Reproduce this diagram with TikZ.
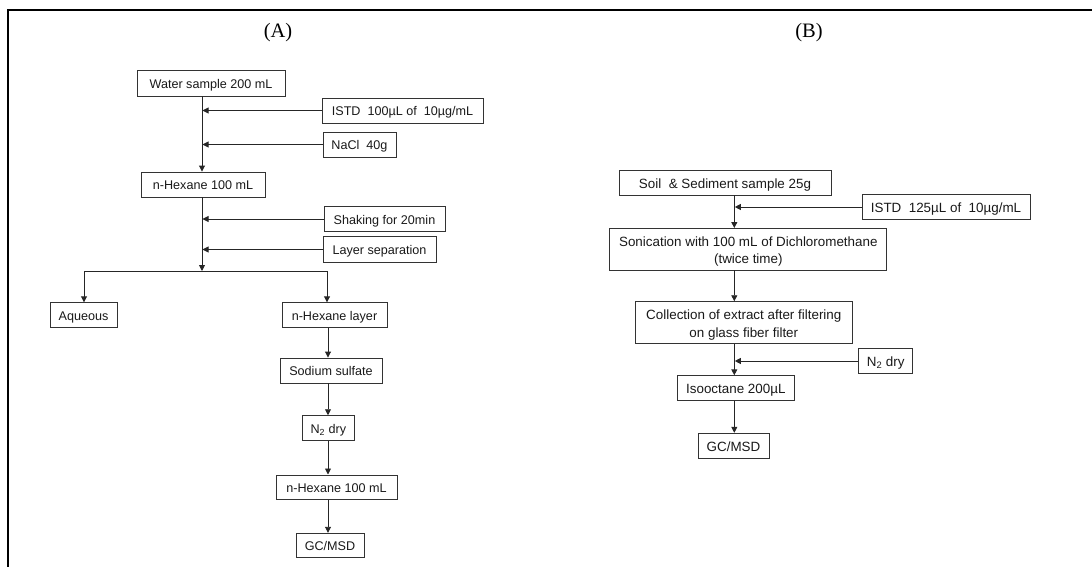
\documentclass[tikz,border=0pt]{standalone}
\usepackage{fontspec}
\setmainfont{Liberation Sans}
\newfontfamily\titlefont{Liberation Serif}
\usetikzlibrary{arrows.meta}
\begin{document}
\begin{tikzpicture}[x=1pt,y=-1pt,
  boxA/.style={draw=black!80,line width=0.9pt,inner sep=0pt,align=center,text=black!90,
    font=\fontsize{12.6}{15}\selectfont,text height=10.8pt,text depth=0pt},
  boxB/.style={draw=black!80,line width=0.9pt,inner sep=0pt,align=center,text=black!90,
    font=\fontsize{13.4}{17.5}\selectfont},
  oneB/.style={boxB,text height=11.4pt,text depth=0pt},
  twoB/.style={boxB,text height=28.9pt,text depth=0pt},
  arr/.style={draw=black!85,line width=0.9pt,-{Triangle[length=6pt,width=6pt]}},
  paneltitle/.style={font=\titlefont\fontsize{20.5}{24}\selectfont,inner sep=0pt}]
\useasboundingbox (0,0) rectangle (1092,567);
% frame
\draw[line width=2.5pt] (8,567) -- (8,10) -- (1092,10);
% titles
\node[paneltitle] (tA) at (278,33) {(A)};
\node[paneltitle] (tB) at (809,33) {(B)};
% ---------- Panel A ----------
\node[boxA,minimum width=148pt,minimum height=26pt] (water) at (211,83) {Water sample 200 mL};
\node[boxA,minimum width=161pt,minimum height=25pt] (istdA) at (402.5,110.5) {ISTD\ \ 100µL of\ \ 10µg/mL};
\node[boxA,minimum width=73pt,minimum height=25pt] (nacl) at (359.5,144.5) {NaCl\ \ 40g};
\node[boxA,minimum width=124pt,minimum height=25pt] (hexA) at (203,184.5) {n-Hexane 100 mL};
\node[boxA,minimum width=121pt,minimum height=25pt] (shake) at (384.5,219) {Shaking for 20min};
\node[boxA,minimum width=113pt,minimum height=25.5pt] (sep) at (379.5,249.5) {Layer separation};
\node[boxA,minimum width=67pt,minimum height=24.5pt] (aq) at (83.5,315) {Aqueous};
\node[boxA,minimum width=105pt,minimum height=24.5pt] (layer) at (334.5,315) {n-Hexane layer};
\node[boxA,minimum width=102pt,minimum height=25pt] (sulf) at (331,370.5) {Sodium sulfate};
\node[boxA,minimum width=51.5pt,minimum height=25pt] (n2A) at (328.3,428.2) {N\textsubscript{2} dry};
\node[boxA,minimum width=121pt,minimum height=24.5pt] (hex2) at (336.5,487.2) {n-Hexane 100 mL};
\node[boxA,minimum width=68pt,minimum height=24.5pt] (gcA) at (330,545.5) {GC/MSD};
\coordinate (trunkA) at (202,0);
\coordinate (colA) at (328,0);
\coordinate (split) at (202,271);
\draw[arr] (water.south -| trunkA) -- (hexA.north -| trunkA);
\draw[arr] (istdA.west) -- ([xshift=0.5pt]istdA.west -| trunkA);
\draw[arr] (nacl.west) -- ([xshift=0.5pt]nacl.west -| trunkA);
\draw[arr] (hexA.south -| trunkA) -- (split);
\draw[arr] (shake.west) -- ([xshift=0.5pt]shake.west -| trunkA);
\draw[arr] (sep.west) -- ([xshift=0.5pt]sep.west -| trunkA);
\draw[arr] (split) -| (aq.north -| 84,0);
\draw[arr] (split) -| (layer.north -| 327,0);
\draw[arr] (layer.south -| colA) -- (sulf.north -| colA);
\draw[arr] (sulf.south -| colA) -- (n2A.north -| colA);
\draw[arr] (n2A.south -| colA) -- (hex2.north -| colA);
\draw[arr] (hex2.south -| colA) -- (gcA.north -| colA);
% ---------- Panel B ----------
\node[oneB,minimum width=212pt,minimum height=25pt] (soil) at (725,182.5) {Soil\ \ \& Sediment sample 25g};
\node[oneB,minimum width=168pt,minimum height=25.5pt] (istdB) at (946,207) {ISTD\ \ 125µL of\ \ 10µg/mL};
\node[twoB,minimum width=277pt,minimum height=41.5pt] (sonic) at (748.3,249.2) {Sonication with 100 mL of Dichloromethane\\(twice time)};
\node[twoB,minimum width=217pt,minimum height=42pt] (coll) at (743.8,322.7) {Collection of extract after filtering\\on glass fiber filter};
\node[oneB,minimum width=54pt,minimum height=25pt] (n2B) at (885.7,361) {N\textsubscript{2} dry};
\node[oneB,minimum width=117pt,minimum height=24.5pt] (iso) at (735.8,388) {Isooctane 200µL};
\node[oneB,minimum width=71pt,minimum height=25pt] (gcB) at (733.5,445.8) {GC/MSD};
\coordinate (trunkB) at (734.3,0);
\draw[arr] (soil.south -| trunkB) -- (sonic.north -| trunkB);
\draw[arr] (istdB.west) -- ([xshift=0.5pt]istdB.west -| trunkB);
\draw[arr] (sonic.south -| trunkB) -- (coll.north -| trunkB);
\draw[arr] (coll.south -| trunkB) -- (iso.north -| trunkB);
\draw[arr] (n2B.west) -- ([xshift=0.5pt]n2B.west -| trunkB);
\draw[arr] (iso.south -| trunkB) -- (gcB.north -| trunkB);
\end{tikzpicture}
\end{document}
